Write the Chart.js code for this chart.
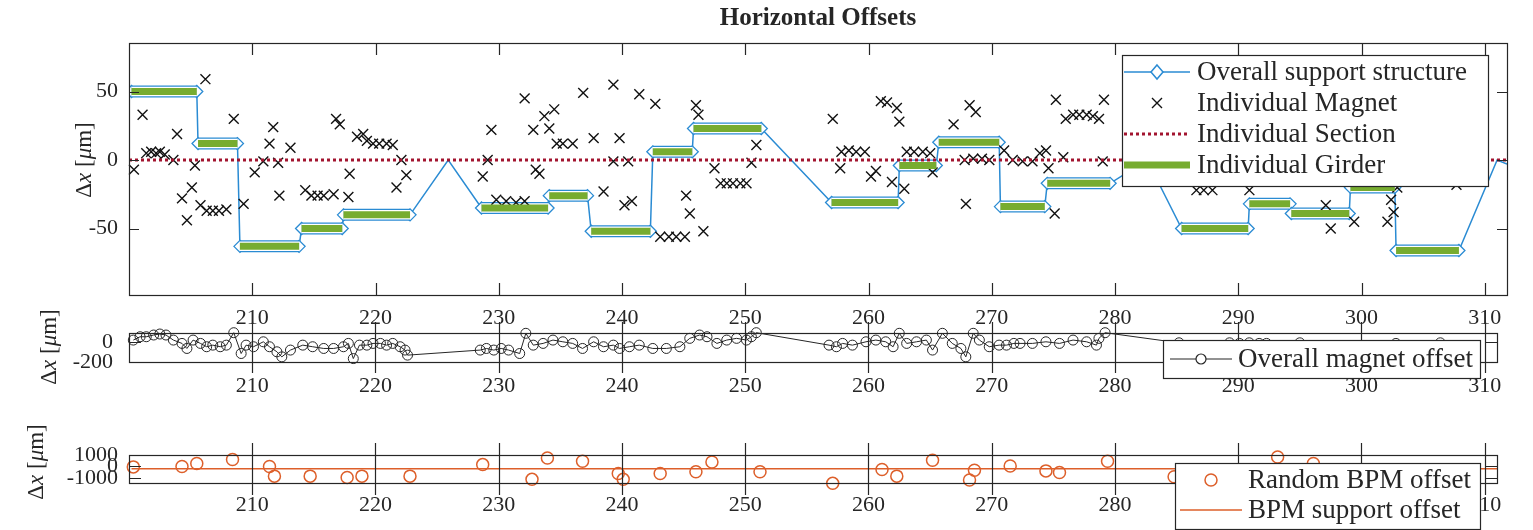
<!DOCTYPE html>
<html lang="en">
<head>
  <meta charset="UTF-8">
  <title>Horizontal Offsets</title>
  <style>
    body { margin: 0; background: #fff; overflow: hidden; }
    .panel { position: absolute; left: 0; }
    #top { top: 0; }
    #mid { top: 290px; }
    #bot { top: 410px; }
  </style>
  <script src="https://cdn.jsdelivr.net/npm/chart.js"></script>
</head>
<body>
  <canvas id="top" class="panel" width="1533" height="335"></canvas>
  <canvas id="mid" class="panel" width="1533" height="120"></canvas>
  <canvas id="bot" class="panel" width="1533" height="120"></canvas>

  <script>
    // ---- data ----
    const xTicks = [210, 220, 230, 240, 250, 260, 270, 280, 290, 300, 310];
    const topYTicks = [-50, 0, 50];
    const midYTicks = [-200, 0];
    const botYTicks = [-1000, 0, 1000];

    // overall support structure: polyline vertices [s, dx]
    const support = [
      [200.2, 50], [205.5, 50], [205.6, 12], [208.8, 12], [209.0, -63], [213.8, -63],
      [214.0, -50], [217.3, -50], [217.4, -40], [222.8, -40], [225.9, 0], [228.6, -35],
      [234.0, -35], [234.1, -26], [237.2, -26], [237.5, -52], [242.3, -52], [242.5, 6],
      [245.7, 6], [245.8, 23], [251.3, 23], [257.0, -31], [262.4, -31], [262.5, -4],
      [265.5, -4], [265.7, 13], [270.6, 13], [270.7, -34], [274.3, -34], [274.5, -17],
      [279.6, -17], [282.6, 0], [285.4, -50], [290.8, -50], [290.9, -32], [294.2, -32],
      [294.3, -39], [299.0, -39], [299.1, -20], [302.7, -20], [302.8, -66], [307.9, -66],
      [311.0, 0], [311.8, -3]
    ];

    // individual girders: [start, end, level]
    const girders = [
      [200.2, 205.5, 50], [205.6, 208.8, 12], [209.0, 213.8, -63], [214.0, 217.3, -50],
      [217.4, 222.8, -40], [228.6, 234.0, -35], [234.1, 237.2, -26], [237.5, 242.3, -52],
      [242.5, 245.7, 6], [245.8, 251.3, 23], [257.0, 262.4, -31], [262.5, 265.5, -4],
      [265.7, 270.6, 13], [270.7, 274.3, -34], [274.5, 279.6, -17], [285.4, 290.8, -50],
      [290.9, 294.2, -32], [294.3, 299.0, -39], [299.1, 302.7, -20], [302.8, 307.9, -66]
    ];

    // individual section offset
    const section = [[200, 0], [311.8, 0]];

    // individual magnet offsets [s, dx]
    const magnets = [
      [200.4, -7], [201.1, 33], [201.4, 5], [201.8, 6], [202.2, 5], [202.5, 6], [202.9, 4],
      [203.6, 0], [203.9, 19], [204.3, -28], [204.7, -44], [205.1, -20], [205.35, -4],
      [205.8, -33], [206.2, 59], [206.3, -37], [206.8, -37], [207.3, -37], [207.9, -36],
      [208.5, 30], [209.3, -32], [210.2, -9], [210.9, -1], [211.4, 12], [211.7, 24],
      [212.1, -2], [212.2, -26], [213.1, 9], [214.3, -22], [214.8, -26], [215.3, -26],
      [215.8, -26], [216.6, -25], [216.8, 30], [217.1, 26], [217.8, -27], [217.9, -10],
      [218.5, 17], [219.0, 19], [219.3, 14], [219.8, 12], [220.3, 12], [220.9, 12],
      [221.4, 11], [221.7, -20], [222.1, 0], [222.5, -11],
      [228.7, -12], [229.1, 0], [229.4, 22], [229.8, -29], [230.6, -30], [231.4, -31],
      [232.1, -30], [232.1, 45], [232.8, 22], [233.0, -7], [233.3, -10], [233.7, 32],
      [234.1, 23], [234.5, 37], [234.7, 12], [235.2, 12], [236.0, 12], [236.85, 49],
      [237.7, 16], [238.5, -23], [239.3, 55], [239.3, -1], [239.8, 16], [240.2, -33],
      [240.5, -1], [240.8, -30], [241.4, 48], [242.7, 41], [243.1, -56], [243.8, -56],
      [244.4, -56], [245.1, -56], [245.2, -26], [245.5, -39], [246.0, 40], [246.2, 33],
      [246.6, -52], [247.5, -6], [248.0, -17], [248.5, -17], [249.0, -17], [249.6, -17],
      [250.1, -17], [250.5, -2], [250.9, 11],
      [257.1, 30], [257.7, -6], [257.8, 6], [258.4, 7], [259.0, 6], [259.7, 6],
      [260.2, -12], [260.6, -8], [261.0, 43], [261.5, 42], [261.9, -16], [262.3, 38],
      [262.5, 28], [262.9, -21], [263.1, 6], [263.7, 6], [264.4, 6], [265.0, 5],
      [265.2, -9], [266.9, 26], [267.8, 0], [267.9, -32], [268.2, 40], [268.5, 1],
      [268.7, 35], [269.2, 1], [269.8, 0], [271.0, 7], [271.7, 0], [272.5, -1],
      [273.3, -1], [273.9, 5], [274.4, 7], [274.6, -6], [275.1, -39], [275.2, 44],
      [275.8, 2], [276.0, 30], [276.6, 33], [277.1, 33], [277.7, 33], [278.2, 32],
      [278.7, 30], [279.0, -1], [279.1, 44],
      [286.6, -22], [287.2, -22], [287.9, -22], [290.9, -22], [297.1, -33], [297.5, -50],
      [299.4, -45], [302.1, -45], [302.4, -29], [302.6, -38], [302.9, -20], [307.7, -18]
    ];

    // overall magnet offset (middle panel)
    const overallMagnet = [
      [200.35, 17], [200.9, 50], [201.4, 50], [202.0, 67], [202.5, 77], [203.0, 67],
      [203.6, 17], [204.3, -16], [204.7, -66], [205.2, 17], [205.8, -16], [206.3, -49],
      [206.8, -33], [207.4, -49], [207.9, -33], [208.5, 90], [209.1, -116], [209.5, -33],
      [210.1, -49], [210.9, 0], [211.4, -49], [212.0, -99], [212.4, -149], [213.1, -82],
      [214.1, -33], [214.9, -49], [215.8, -66], [216.6, -66], [217.4, -49], [217.8, -16],
      [218.2, -166], [218.7, -33], [219.3, -33], [219.8, -16], [220.4, -16], [220.9, -33],
      [221.4, -16], [222.0, -49], [222.4, -82], [222.6, -132],
      [228.5, -82], [229.0, -66], [229.6, -82], [230.2, -66], [230.8, -82], [231.7, -116],
      [232.2, 84], [232.8, -33], [233.6, -16], [234.4, 17], [235.2, 0], [236.0, -16],
      [236.8, -66], [237.7, 0], [238.5, -49], [239.3, -33], [239.8, -66], [240.6, -49],
      [241.4, -33], [242.5, -66], [243.6, -66], [244.7, -49], [245.5, 34], [246.3, 67],
      [246.9, 50], [247.7, -16], [248.5, 17], [249.3, 34], [250.1, 17], [250.5, 50],
      [250.9, 90],
      [256.8, -33], [257.4, -49], [257.9, -16], [258.7, -33], [259.8, 0], [260.6, 17],
      [261.4, 0], [262.0, -49], [262.5, 84], [263.1, -16], [263.9, 0], [264.7, 17],
      [265.2, -82], [266.0, 84], [266.8, -16], [267.5, -66], [267.9, -149], [268.5, 84],
      [269.0, 17], [269.8, -49], [270.6, -33], [271.2, -33], [271.8, -16], [272.3, -16],
      [273.3, -16], [274.4, 0], [275.5, -16], [276.6, 17], [277.7, 0], [278.5, -33],
      [278.7, 34], [279.2, 90],
      [285.2, -10], [289.3, -10], [290.1, -16], [290.9, -10], [291.7, -16], [292.3, -16],
      [295.0, -10], [302.8, -16], [306.4, -10]
    ];

    // random BPM offsets and BPM support (bottom panel)
    const bpmRandom = [
      [200.35, -40], [204.3, 0], [205.5, 250], [208.4, 600], [211.4, 0], [211.8, -850],
      [214.7, -850], [217.7, -960], [218.9, -850], [222.8, -850], [228.7, 160],
      [232.7, -1130], [233.95, 740], [236.8, 450], [239.7, -620], [240.1, -1130],
      [243.1, -620], [246.0, -470], [247.3, 390], [251.2, -470], [257.1, -1480],
      [261.1, -270], [262.3, -850], [265.2, 540], [268.2, -1190], [268.6, -330],
      [271.5, 40], [274.4, -390], [275.5, -530], [279.4, 450], [284.8, -900],
      [293.2, 820], [296.1, 250]
    ];
    const bpmSupport = [[200.2, -200], [311.0, -200]];

    // ---- styling ----
    const BLUE = '#2a8bd3', GREEN = '#77ac30', RED = '#a2142f', ORANGE = '#dd5f2a', INK = '#262626';
    const SERIF = "'Liberation Serif', 'Times New Roman', serif";
    Chart.defaults.font.family = SERIF;
    Chart.defaults.font.size = 22;
    Chart.defaults.color = INK;

    const pts = arr => arr.map(p => ({ x: p[0], y: p[1] }));
    const girderLine = () => girders.flatMap(g => [
      { x: g[0], y: g[2] }, { x: g[1], y: g[2] }, { x: g[1], y: null }
    ]);
    const girderEnds = () => girders.flatMap(g => [{ x: g[0], y: g[2] }, { x: g[1], y: g[2] }]);

    // box + inward ticks, MATLAB style
    const boxPlugin = {
      id: 'matBox',
      afterDatasetsDraw(chart, args, o) {
        const { ctx, chartArea: a, scales: { x, y } } = chart;
        ctx.save();
        ctx.strokeStyle = INK;
        ctx.lineWidth = 1.2;
        ctx.beginPath();
        x.ticks.forEach(t => {
          const px = Math.round(x.getPixelForValue(t.value)) + 0.5;
          ctx.moveTo(px, a.bottom); ctx.lineTo(px, a.bottom - o.xLen);
          ctx.moveTo(px, a.top); ctx.lineTo(px, a.top + o.xLen);
        });
        y.ticks.forEach(t => {
          const py = Math.round(y.getPixelForValue(t.value)) + 0.5;
          ctx.moveTo(a.left, py); ctx.lineTo(a.left + o.yLen, py);
          ctx.moveTo(a.right, py); ctx.lineTo(a.right - o.yLen, py);
        });
        ctx.stroke();
        ctx.strokeRect(Math.round(a.left) + 0.5, Math.round(a.top) + 0.5,
          Math.round(a.right - a.left), Math.round(a.bottom - a.top));
        ctx.restore();
      }
    };

    // y label "Δx [μm]" with italic x and μ, rotated
    const yLabelPlugin = {
      id: 'yLabel',
      afterDraw(chart, args, o) {
        if (!o.x) return;
        const ctx = chart.ctx;
        const parts = [['Δ', ''], ['x', 'italic '], [' [', ''], ['μ', 'italic '], ['m]', '']];
        ctx.save();
        ctx.translate(o.x, o.y);
        ctx.rotate(-Math.PI / 2);
        ctx.fillStyle = INK;
        ctx.textBaseline = 'middle';
        ctx.textAlign = 'left';
        let total = 0;
        parts.forEach(p => { ctx.font = p[1] + '23px ' + SERIF; total += ctx.measureText(p[0]).width; });
        let cx = -total / 2;
        parts.forEach(p => {
          ctx.font = p[1] + '23px ' + SERIF;
          ctx.fillText(p[0], cx, 0);
          cx += ctx.measureText(p[0]).width;
        });
        ctx.restore();
      }
    };

    function drawSample(ctx, kind, x0, x1, cy) {
      const xm = (x0 + x1) / 2;
      ctx.save();
      ctx.setLineDash([]);
      if (kind === 'lineDiamond') {
        ctx.strokeStyle = BLUE; ctx.lineWidth = 1.5;
        ctx.beginPath(); ctx.moveTo(x0, cy); ctx.lineTo(x1, cy); ctx.stroke();
        ctx.fillStyle = '#fff';
        ctx.beginPath();
        ctx.moveTo(xm, cy - 7); ctx.lineTo(xm + 6, cy); ctx.lineTo(xm, cy + 7); ctx.lineTo(xm - 6, cy);
        ctx.closePath(); ctx.fill(); ctx.stroke();
      } else if (kind === 'cross') {
        ctx.strokeStyle = '#111'; ctx.lineWidth = 1.4;
        ctx.beginPath();
        ctx.moveTo(xm - 5, cy - 5); ctx.lineTo(xm + 5, cy + 5);
        ctx.moveTo(xm + 5, cy - 5); ctx.lineTo(xm - 5, cy + 5);
        ctx.stroke();
      } else if (kind === 'dotted') {
        ctx.strokeStyle = RED; ctx.lineWidth = 3; ctx.setLineDash([3, 3]);
        ctx.beginPath(); ctx.moveTo(x0, cy); ctx.lineTo(x1, cy); ctx.stroke();
      } else if (kind === 'thick') {
        ctx.strokeStyle = GREEN; ctx.lineWidth = 7;
        ctx.beginPath(); ctx.moveTo(x0, cy); ctx.lineTo(x1, cy); ctx.stroke();
      } else if (kind === 'lineCircle') {
        ctx.strokeStyle = INK; ctx.lineWidth = 1.2;
        ctx.beginPath(); ctx.moveTo(x0, cy); ctx.lineTo(x1, cy); ctx.stroke();
        ctx.fillStyle = '#fff';
        ctx.beginPath(); ctx.arc(xm, cy, 5, 0, Math.PI * 2); ctx.fill(); ctx.stroke();
      } else if (kind === 'circle') {
        ctx.strokeStyle = ORANGE; ctx.lineWidth = 1.5;
        ctx.beginPath(); ctx.arc(xm, cy, 6, 0, Math.PI * 2); ctx.stroke();
      } else if (kind === 'line') {
        ctx.strokeStyle = ORANGE; ctx.lineWidth = 1.5;
        ctx.beginPath(); ctx.moveTo(x0, cy); ctx.lineTo(x1, cy); ctx.stroke();
      }
      ctx.restore();
    }

    // legend box drawn inside the axes, over the data
    const legendPlugin = {
      id: 'boxLegend',
      afterDraw(chart, args, o) {
        if (!o.w) return;
        const ctx = chart.ctx;
        const items = chart.data.datasets.filter(d => d.legend);
        ctx.save();
        ctx.fillStyle = '#fff';
        ctx.fillRect(o.x, o.y, o.w, o.h);
        ctx.strokeStyle = INK; ctx.lineWidth = 1.2;
        ctx.strokeRect(o.x + 0.5, o.y + 0.5, o.w, o.h);
        items.forEach((d, i) => {
          const cy = o.y + o.first + i * o.step;
          drawSample(ctx, d.legend, o.x + o.s0, o.x + o.s1, cy);
          ctx.font = '27px ' + SERIF;
          ctx.textBaseline = 'middle';
          ctx.textAlign = 'left';
          ctx.fillStyle = INK;
          ctx.fillText(d.label, o.x + o.tx, cy + 1);
        });
        ctx.restore();
      }
    };

    const titlePlugin = {
      id: 'figTitle',
      afterDraw(chart, args, o) {
        if (!o.text) return;
        const ctx = chart.ctx;
        ctx.save();
        ctx.font = 'bold 25px ' + SERIF;
        ctx.fillStyle = INK;
        ctx.textAlign = 'center';
        ctx.textBaseline = 'middle';
        ctx.fillText(o.text, o.x, o.y);
        ctx.restore();
      }
    };

    Chart.register(boxPlugin, yLabelPlugin, legendPlugin, titlePlugin);

    function axes(cfg) {
      return {
        x: {
          type: 'linear', min: 200, max: cfg.xMax,
          grid: { display: false, drawTicks: false }, border: { display: false },
          afterBuildTicks: s => { s.ticks = xTicks.map(v => ({ value: v })); },
          afterFit: s => { s.height = cfg.xH; s.paddingLeft = 0; s.paddingRight = 0; },
          ticks: { padding: cfg.xPad, autoSkip: false, maxRotation: 0, callback: v => String(v) }
        },
        y: {
          min: cfg.yMin, max: cfg.yMax,
          grid: { display: false, drawTicks: false }, border: { display: false },
          afterBuildTicks: s => { s.ticks = cfg.yTicks.map(v => ({ value: v })); },
          afterFit: s => { s.width = 129; s.paddingTop = 0; s.paddingBottom = 0; },
          ticks: { padding: cfg.yPad, autoSkip: false, callback: v => String(v) }
        }
      };
    }

    function basePlugins(extra) {
      return Object.assign({ legend: { display: false }, tooltip: { enabled: false } }, extra);
    }

    // ---- top panel ----
    new Chart(document.getElementById('top'), {
      type: 'line',
      data: {
        datasets: [
          { label: 'Overall support structure', legend: 'lineDiamond', data: pts(support),
            borderColor: BLUE, borderWidth: 1.5, pointRadius: 0, order: 6 },
          { label: 'Individual Magnet', legend: 'cross', data: pts(magnets), showLine: false,
            pointStyle: 'crossRot', pointRadius: 7, borderColor: '#111', pointBorderWidth: 1.4,
            order: 2, clip: false },
          { label: 'Individual Section', legend: 'dotted', data: pts(section),
            borderColor: RED, borderWidth: 3, borderDash: [3, 3], pointRadius: 0, order: 1 },
          { label: 'Individual Girder', legend: 'thick', data: girderLine(),
            borderColor: GREEN, borderWidth: 7, pointRadius: 0, spanGaps: false, order: 0 },
          { label: 'girder rim', data: girderLine(), borderColor: '#fff', borderWidth: 9.5,
            pointRadius: 0, spanGaps: false, order: 3 },
          { label: 'girder outline', data: girderLine(), borderColor: BLUE, borderWidth: 12,
            pointRadius: 0, spanGaps: false, order: 4 },
          { label: 'girder ends', data: girderEnds(), showLine: false, pointStyle: 'rectRot',
            pointRadius: 6, borderColor: BLUE, backgroundColor: '#fff', pointBorderWidth: 1.3, order: 5 }
        ]
      },
      options: {
        responsive: false, animation: false, events: [],
        layout: { padding: { top: 43, right: 26, left: 0, bottom: 0 } },
        scales: axes({ xMax: 311.8, xH: 40, xPad: 10, yMin: -98.5, yMax: 85.4,
          yTicks: topYTicks, yPad: 11 }),
        plugins: basePlugins({
          matBox: { xLen: 12, yLen: 10 },
          yLabel: { x: 85, y: 160 },
          boxLegend: { x: 1122, y: 55, w: 366, h: 131, first: 17, step: 31, s0: 2, s1: 68, tx: 75 },
          figTitle: { text: 'Horizontal Offsets', x: 818, y: 19 }
        })
      }
    });

    // ---- middle panel (canvas starts at page y 290) ----
    new Chart(document.getElementById('mid'), {
      type: 'line',
      data: {
        datasets: [
          { label: 'Overall magnet offset', legend: 'lineCircle', data: pts(overallMagnet),
            borderColor: INK, borderWidth: 1, pointStyle: 'circle', pointRadius: 5,
            pointBorderWidth: 1, pointBackgroundColor: 'rgba(0,0,0,0)', clip: false }
        ]
      },
      options: {
        responsive: false, animation: false, events: [],
        layout: { padding: { top: 43, right: 36, left: 0, bottom: 0 } },
        scales: axes({ xMax: 311, xH: 48, xPad: 11, yMin: -200, yMax: 87,
          yTicks: midYTicks, yPad: 16 }),
        plugins: basePlugins({
          matBox: { xLen: 40, yLen: 12 },
          yLabel: { x: 50, y: 57 },
          boxLegend: { x: 1163, y: 50, w: 317, h: 38, first: 19, step: 0, s0: 7, s1: 69, tx: 75 }
        })
      }
    });

    // ---- bottom panel (canvas starts at page y 410) ----
    new Chart(document.getElementById('bot'), {
      type: 'line',
      data: {
        datasets: [
          { label: 'Random BPM offset', legend: 'circle', data: pts(bpmRandom), showLine: false,
            pointStyle: 'circle', pointRadius: 6, borderColor: ORANGE, pointBorderWidth: 1.5,
            pointBackgroundColor: 'rgba(0,0,0,0)', clip: false },
          { label: 'BPM support offset', legend: 'line', data: pts(bpmSupport),
            borderColor: ORANGE, borderWidth: 1.5, pointRadius: 0 }
        ]
      },
      options: {
        responsive: false, animation: false, events: [],
        layout: { padding: { top: 45, right: 36, left: 0, bottom: 0 } },
        scales: axes({ xMax: 311, xH: 47, xPad: 9, yMin: -1450, yMax: 1000,
          yTicks: botYTicks, yPad: 11 }),
        plugins: basePlugins({
          matBox: { xLen: 40, yLen: 12 },
          yLabel: { x: 37, y: 52 },
          boxLegend: { x: 1175, y: 53, w: 305, h: 66, first: 17, step: 30, s0: 5, s1: 67, tx: 73 }
        })
      }
    });
  </script>
</body>
</html>
